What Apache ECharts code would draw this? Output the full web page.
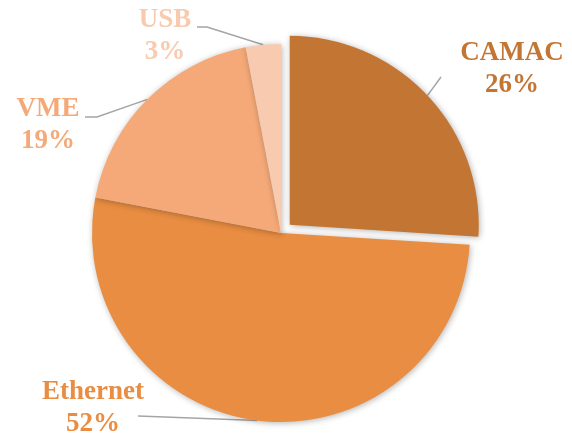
<!DOCTYPE html>
<html>
<head>
<meta charset="utf-8">
<script src="https://cdn.jsdelivr.net/npm/echarts@6/dist/echarts.min.js"></script>
<style>
  html, body { margin: 0; padding: 0; background: #fff; }
  #chart { width: 572px; height: 437px; }
</style>
</head>
<body>
<div id="chart"></div>
<script>
const categories = ['CAMAC', 'Ethernet', 'VME', 'USB']
const shares = [26, 52, 19, 3]
const colors = ['#C37534', '#E88D42', '#F5A978', '#F8CBB0']
const exploded = 'CAMAC'

// where each label block sits (text centre) and the bend of its leader line
const labelSpots = {
  CAMAC: { x: 512, y: 69, bend: [[441, 77]] },
  Ethernet: { x: 93, y: 408, bend: [[138, 416]] },
  VME: { x: 48, y: 125, bend: [[97, 117], [85, 117]] },
  USB: { x: 165, y: 36, bend: [[207, 27], [197, 27]] }
}

const center = [281, 233]
const explodeBy = 12

// push the exploded slice out along its own mid angle
const total = shares.reduce((a, b) => a + b, 0)
let before = 0
for (let i = 0; i < categories.indexOf(exploded); i++) before += shares[i]
const midAngle = ((before + shares[categories.indexOf(exploded)] / 2) / total) * Math.PI * 2
const explodedCenter = [
  center[0] + Math.sin(midAngle) * explodeBy,
  center[1] - Math.cos(midAngle) * explodeBy
]

const hidden = { color: 'rgba(0,0,0,0)', shadowBlur: 0, shadowColor: 'rgba(0,0,0,0)' }

const makeData = (showExploded) => categories.map((name, i) => {
  const visible = (name === exploded) === showExploded
  return {
    name,
    value: shares[i],
    itemStyle: visible ? { color: colors[i] } : hidden,
    label: visible ? { show: true, color: colors[i] } : { show: false },
    labelLine: { show: visible }
  }
})

const chart = echarts.init(document.getElementById('chart'))

const common = {
  type: 'pie',
  radius: 189,
  startAngle: 90,
  clockwise: true,
  silent: true,
  itemStyle: {
    shadowBlur: 6,
    shadowColor: 'rgba(0, 0, 0, 0.3)',
    shadowOffsetX: 1,
    shadowOffsetY: 1
  },
  label: {
    position: 'outside',
    formatter: '{b}\n{c}%',
    fontFamily: '"Liberation Serif", "Times New Roman", serif',
    fontWeight: 'bold',
    fontSize: 27,
    lineHeight: 32,
    align: 'center',
    overflow: 'none'
  },
  labelLine: {
    lineStyle: { color: '#A5A5A5', width: 1.5 }
  },
  labelLayout: (params) => {
    const spot = labelSpots[categories[params.dataIndex]]
    const start = params.labelLinePoints ? params.labelLinePoints[0] : null
    return {
      x: spot.x,
      y: spot.y,
      align: 'center',
      verticalAlign: 'middle',
      labelLinePoints: start ? [start].concat(spot.bend) : undefined
    }
  },
  emphasis: { disabled: true }
}

const option = {
  animation: false,
  series: [
    Object.assign({}, common, { center: center, data: makeData(false) }),
    Object.assign({}, common, { center: explodedCenter, data: makeData(true) })
  ]
}

chart.setOption(option)
</script>
</body>
</html>
